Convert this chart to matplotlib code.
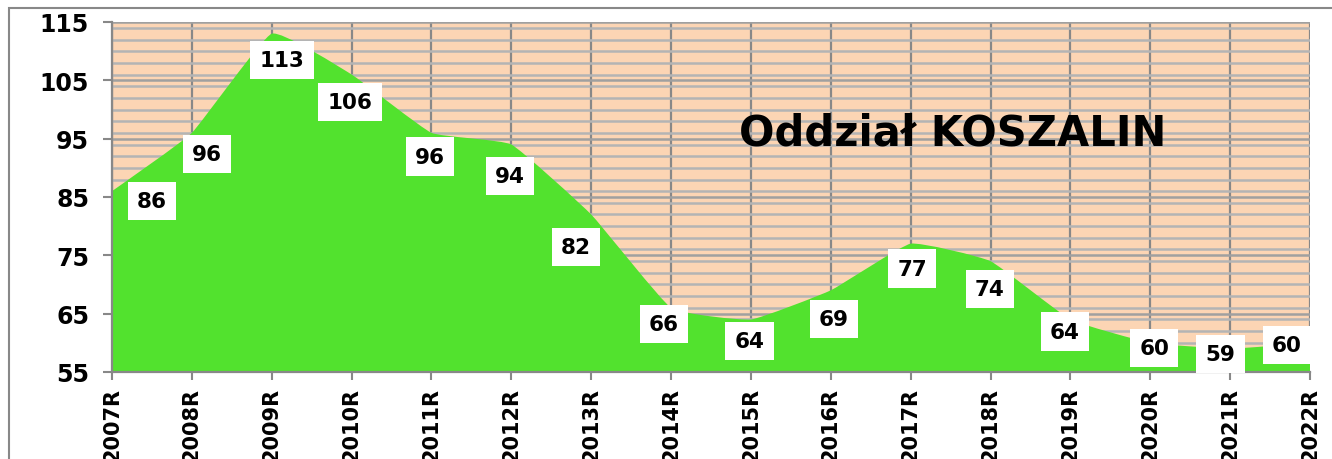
import matplotlib
matplotlib.use("Agg")
import matplotlib.pyplot as plt
from matplotlib.path import Path
from matplotlib.patches import PathPatch, Rectangle
from matplotlib.ticker import MultipleLocator

years = ["2007R", "2008R", "2009R", "2010R", "2011R", "2012R", "2013R", "2014R",
         "2015R", "2016R", "2017R", "2018R", "2019R", "2020R", "2021R", "2022R"]
values = [86, 96, 113, 106, 96, 94, 82, 66, 64, 69, 77, 74, 64, 60, 59, 60]
title = "Oddział KOSZALIN"

# label placement (offset from the point, in data units) - layout only
label_dx = [0.50, 0.19, 0.13, -0.02, -0.02, -0.02, -0.19, -0.09,
            -0.02, 0.04, 0.02, -0.01, -0.07, 0.05, -0.12, -0.29]
label_dy = [-1.7, -3.6, -4.5, -4.7, -4.1, -5.4, -5.6, -2.8,
            -3.7, -4.9, -4.3, -4.8, -2.1, -0.9, -0.9, -0.4]

plt.rcParams['font.family'] = ['DejaVu Sans']

fig = plt.figure(figsize=(13.32, 4.6), dpi=100)
ax = fig.add_axes([112/1332, 1 - 373/460, (1310-112)/1332, (373-23)/460])

ymin, ymax = 55, 115
ax.set_xlim(0, len(values) - 1)
ax.set_ylim(ymin, ymax)
ax.set_facecolor("#FCD5B4")

# grid
ax.yaxis.set_minor_locator(MultipleLocator(2))
ax.set_yticks(range(55, 116, 10))
ax.grid(which="minor", axis="y", color="#B4B4B4", lw=1.8, zorder=0)
ax.grid(which="major", axis="y", color="#A0A0A0", lw=1.8, zorder=0)
ax.grid(which="major", axis="x", color="#888888", lw=1.6, zorder=0)
ax.set_axisbelow(True)

# lightly smoothed area (cubic Bezier, low tension)
n = len(values)
pts = [(i, v) for i, v in enumerate(values)]
verts = [(0, ymin), pts[0]]
codes = [Path.MOVETO, Path.LINETO]
t = 0.06
for i in range(n - 1):
    p0 = pts[i - 1] if i > 0 else pts[i]
    p1 = pts[i]
    p2 = pts[i + 1]
    p3 = pts[i + 2] if i + 2 < n else pts[i + 1]
    c1 = (p1[0] + (p2[0] - p0[0]) * t, p1[1] + (p2[1] - p0[1]) * t)
    c2 = (p2[0] - (p3[0] - p1[0]) * t, p2[1] - (p3[1] - p1[1]) * t)
    verts += [c1, c2, p2]
    codes += [Path.CURVE4] * 3
verts += [(n - 1, ymin), (0, ymin)]
codes += [Path.LINETO, Path.CLOSEPOLY]
patch = PathPatch(Path(verts, codes), facecolor="#52E22E", edgecolor="none", zorder=2)
ax.add_patch(patch)

# data labels
for i, v in enumerate(values):
    ax.text(i + label_dx[i], v + label_dy[i], str(v), ha="center", va="center",
            fontsize=15.5, fontweight="bold", color="black", zorder=5,
            bbox=dict(boxstyle="square,pad=0.43", facecolor="white", edgecolor="none"))

ax.text(10.53, 96.0, title, ha="center", va="center", fontsize=30,
        fontweight="bold", color="black", zorder=4)

ax.set_xticks(range(n))
ax.set_xticklabels(years, rotation=90, fontsize=15, fontweight="bold")
for lab in ax.get_yticklabels():
    lab.set_fontsize(17)
    lab.set_fontweight("bold")
ax.tick_params(axis="y", which="major", length=6.5, width=1.5, color="#888888", pad=10)
ax.tick_params(axis="y", which="minor", length=0)
ax.tick_params(axis="x", length=6, width=1.5, color="#888888", pad=5)

for side in ["top", "right"]:
    ax.spines[side].set_visible(False)
for side in ["left", "bottom"]:
    ax.spines[side].set_color("#888888")
    ax.spines[side].set_linewidth(1.6)

# outer chart border
fig.patches.append(Rectangle((9/1332, -0.1), 1.2, 1 - 9/460 + 0.1, transform=fig.transFigure,
                             fill=False, edgecolor="#888888", lw=1.5))

fig.savefig("out.png", dpi=100)
